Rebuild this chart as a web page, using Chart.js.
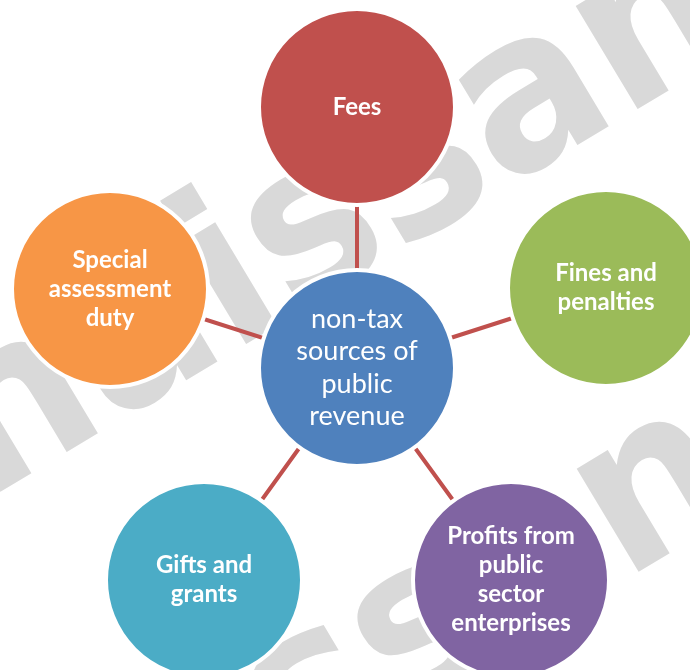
<!DOCTYPE html>
<html>
<head>
<meta charset="utf-8">
<script src="https://cdn.jsdelivr.net/npm/chart.js@4"></script>
<style>
  html, body { margin: 0; padding: 0; background: #ffffff; }
  #wrap { width: 690px; height: 670px; position: relative; }
</style>
</head>
<body>
<div id="wrap"><canvas id="diagram"></canvas></div>
<script>
// hub of the diagram
const hubLabel = ['non-tax', 'sources of', 'public', 'revenue'];
const hubPos = [357, 368];
const hubColor = '#4F81BD';

// outer nodes, clockwise from the top
const nodeLabels = [
    ['Fees'],
    ['Fines and', 'penalties'],
    ['Profits from', 'public', 'sector', 'enterprises'],
    ['Gifts and', 'grants'],
    ['Special', 'assessment', 'duty']
];
const nodeX = [357, 606, 511, 204, 110];
const nodeY = [107, 288, 580, 580, 289];
const nodeColors = ['#C0504D', '#9BBB59', '#8064A2', '#4BACC6', '#F79646'];

const watermarkText = 'Renaissance';

// spokes: hub -> node -> hub -> node ...
const spokes = [];
nodeX.forEach((x, i) => {
    spokes.push({ x: hubPos[0], y: hubPos[1] });
    spokes.push({ x: x, y: nodeY[i] });
});

const watermark = {
    id: 'watermark',
    beforeDatasetsDraw(chart) {
        const ctx = chart.ctx;
        const size = 220;
        const squeeze = 0.94;
        const ang = -31 * Math.PI / 180;
        ctx.save();
        ctx.font = `bold ${size}px "DejaVu Sans"`;
        ctx.fillStyle = '#D9D9D9';
        ctx.textBaseline = 'alphabetic';
        const xh = size * 0.56;
        // line 1 anchored on the "i", line 2 on the second "n"
        const lines = [
            { cx: 230, cy: 282, idx: 4 },
            { cx: 655, cy: 490, idx: 8 }
        ];
        lines.forEach(l => {
            const pre = ctx.measureText(watermarkText.slice(0, l.idx)).width;
            const ch = ctx.measureText(watermarkText[l.idx]).width;
            ctx.save();
            ctx.translate(l.cx, l.cy);
            ctx.rotate(ang);
            ctx.scale(squeeze, 1);
            ctx.fillText(watermarkText, -(pre + ch / 2), xh / 2);
            ctx.restore();
        });
        ctx.restore();
    }
};

const labels = {
    id: 'labels',
    afterDatasetsDraw(chart) {
        const ctx = chart.ctx;
        ctx.save();
        ctx.fillStyle = '#ffffff';
        ctx.textAlign = 'center';
        ctx.textBaseline = 'middle';

        const nodes = chart.getDatasetMeta(1).data;
        ctx.font = 'bold 24px Lato';
        nodes.forEach((pt, i) => {
            const lines = nodeLabels[i];
            const lh = 29;
            const top = pt.y - (lines.length - 1) * lh / 2;
            lines.forEach((t, j) => ctx.fillText(t, pt.x, top + j * lh));
        });

        const hub = chart.getDatasetMeta(2).data[0];
        ctx.font = '27px Lato';
        const lh = 32.5;
        const top = hub.y - (hubLabel.length - 1) * lh / 2;
        hubLabel.forEach((t, j) => ctx.fillText(t, hub.x, top + j * lh));
        ctx.restore();
    }
};

new Chart(document.getElementById('diagram'), {
    type: 'scatter',
    data: {
        datasets: [
            {
                data: spokes,
                showLine: true,
                borderColor: '#C0504D',
                borderWidth: 4,
                pointRadius: 0,
                order: 3,
                clip: false
            },
            {
                data: nodeX.map((x, i) => ({ x: x, y: nodeY[i] })),
                pointRadius: 98,
                pointHoverRadius: 98,
                backgroundColor: nodeColors,
                borderColor: '#ffffff',
                borderWidth: 4,
                order: 2,
                clip: false
            },
            {
                data: [{ x: hubPos[0], y: hubPos[1] }],
                pointRadius: 98,
                pointHoverRadius: 98,
                backgroundColor: hubColor,
                borderColor: '#ffffff',
                borderWidth: 4,
                order: 1,
                clip: false
            }
        ]
    },
    options: {
        responsive: true,
        maintainAspectRatio: false,
        animation: false,
        events: [],
        layout: { padding: 0, autoPadding: false },
        plugins: {
            legend: { display: false },
            tooltip: { enabled: false }
        },
        scales: {
            x: { type: 'linear', min: 0, max: 690, display: false },
            y: { type: 'linear', min: 0, max: 670, reverse: true, display: false }
        }
    },
    plugins: [watermark, labels]
});
</script>
</body>
</html>
